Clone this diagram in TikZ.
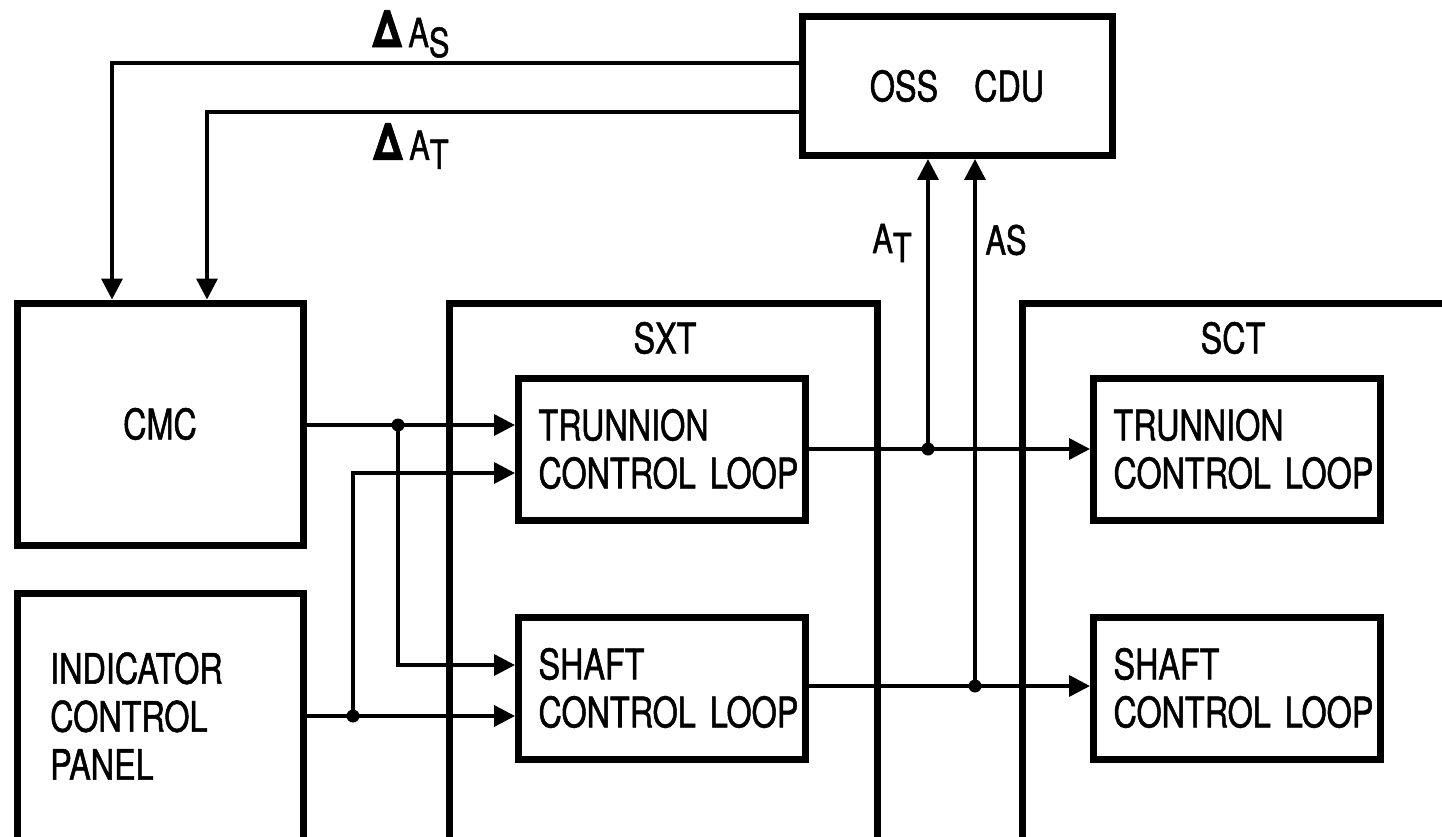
\documentclass[tikz,border=0pt]{standalone}
\usepackage{fontspec}
\setmainfont{TeX Gyre Heros}[FakeStretch=0.77,FakeBold=1.2]
\usetikzlibrary{arrows.meta}
\tikzset{
  every node/.style={font=\fontsize{42}{48}\selectfont},
  blk/.style={draw, line width=7pt, inner sep=0pt},
  loopbox/.style={draw, line width=7pt, align=left, inner xsep=20pt, inner ysep=0pt,
    text width=247pt, minimum height=142pt},
  conn/.style={line width=3.5pt, -{Triangle[length=21pt,width=21pt]}},
  lbl/.style={font=\fontsize{40}{46}\selectfont, inner sep=0pt},
}
\newcommand{\dlt}{\scalebox{1.3}{\bfseries Δ}}
\begin{document}
\begin{tikzpicture}[x=1pt,y=-1pt]
\useasboundingbox (0,0) rectangle (1442,837);
\clip (0,0) rectangle (1442,837);
\fill[white] (0,0) rectangle (1442,837);
% blocks
\node[blk, minimum width=286pt, minimum height=242pt] (CMC) at (160,424) {CMC};
\node[blk, minimum width=286pt, minimum height=290pt] (ICP) at (160,738) {};
\node[align=left, anchor=west, inner sep=0pt] (icptext) at (50,716) {INDICATOR\\CONTROL\\PANEL};
\node[blk, minimum width=428pt, minimum height=600pt] (SXT) at (663,603) {};
\node[inner sep=0pt] (sxttext) at (665,338) {SXT};
\node[blk, minimum width=480pt, minimum height=600pt] (SCT) at (1262,603) {};
\node[inner sep=0pt] (scttext) at (1233,338) {SCT};
\node[blk, minimum width=310pt, minimum height=139pt] (OSS) at (957,86) {OSS\hspace{36pt}CDU\hspace{12pt}};
\node[loopbox] (T1) at (662,449) {TRUNNION\\\mbox{CONTROL LOOP}};
\node[loopbox] (S1) at (662,688) {SHAFT\\\mbox{CONTROL LOOP}};
\node[loopbox] (T2) at (1237,449) {TRUNNION\\\mbox{CONTROL LOOP}};
\node[loopbox] (S2) at (1237,688) {SHAFT\\\mbox{CONTROL LOOP}};
% junctions
\coordinate (j1) at (398,425);
\coordinate (j2) at (353,716);
\coordinate (j3) at (928,449);
\coordinate (j4) at (975,686);
% connectors
\draw[conn] (CMC.east |- j1) -- (T1.west |- j1);
\draw[conn] (j1) |- (S1.west |- 0,665);
\draw[conn] (ICP.east |- j2) -- (S1.west |- j2);
\draw[conn] (j2) |- (T1.west |- 0,473);
\draw[conn] (T1.east |- j3) -- (T2.west |- j3);
\draw[conn] (j3) -- (j3 |- OSS.south);
\draw[conn] (S1.east |- j4) -- (S2.west |- j4);
\draw[conn] (j4) -- (j4 |- OSS.south);
\draw[conn] (OSS.west |- 0,63) -| (CMC.north -| 112,0);
\draw[conn] (OSS.west |- 0,112) -| (CMC.north -| 207,0);
\foreach \j in {j1,j2,j3,j4} \fill (\j) circle (6.5pt);
% labels
\node[lbl] (dAS) at (411,34) {\dlt\,A\raisebox{-10pt}{S}};
\node[lbl] (dAT) at (411,146) {\dlt\,A\raisebox{-9pt}{T}};
\node[lbl] (AT) at (892,243) {A\raisebox{-9pt}{T}};
\node[lbl] (AS) at (1006,240) {AS};
\end{tikzpicture}
\end{document}
